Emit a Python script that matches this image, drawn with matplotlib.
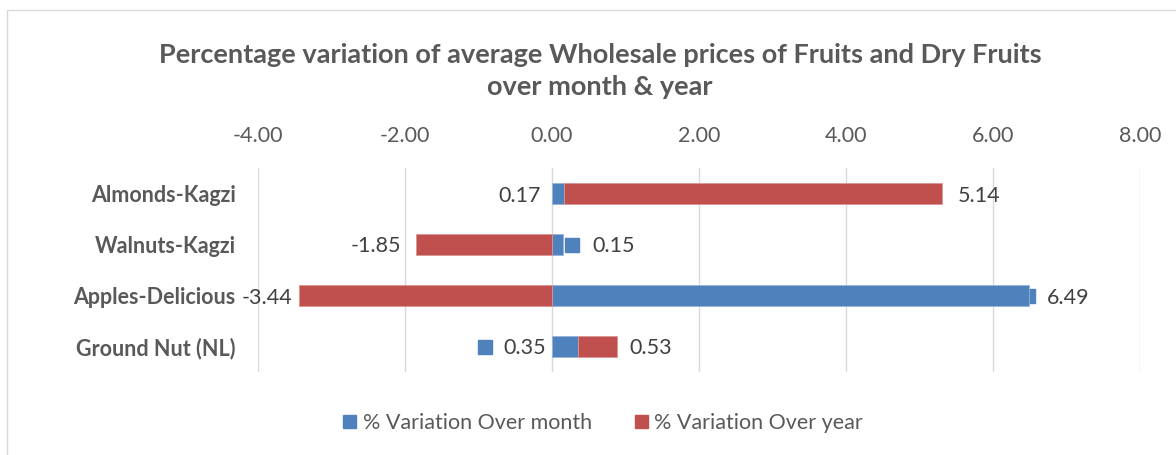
import numpy as np
import matplotlib
matplotlib.use("Agg")
import matplotlib.pyplot as plt
from matplotlib.patches import Rectangle, Patch
from matplotlib.transforms import offset_copy

plt.rcParams['font.family'] = ['Lato', 'DejaVu Sans']

categories = ['Almonds-Kagzi', 'Walnuts-Kagzi', 'Apples-Delicious', 'Ground Nut (NL)']
over_month = [0.17, 0.15, 6.49, 0.35]
over_year = [5.14, -1.85, -3.44, 0.53]
series_names = ['% Variation Over month', '% Variation Over year']
xticks = [-4, -2, 0, 2, 4, 6, 8]

blue = '#4F81BD'
red = '#C0504D'
txt = '#404040'
grey = '#595959'

# label layout (pixel offsets from the bar end / base), like the excel chart
# (anchor, text dx, ha, key dx or None)
month_lab = [('base', -11, 'right', None),
             ('end', 29, 'left', 9),
             ('end', 18, 'left', -1),
             ('base', -6, 'right', -67)]
year_lab = [15, -15, -7, 13]

fig = plt.figure(figsize=(11.76, 4.55), dpi=100)
fig.patches.append(Rectangle((7/1176, -0.1), 1.2, 1.1 - 10/455, transform=fig.transFigure,
                             fill=False, edgecolor='#d9d9d9', lw=1))
ax = fig.add_axes([258/1176, 1 - 372/455, (1140 - 258)/1176, (372 - 168)/455])

y = np.arange(len(categories))
ax.barh(y, over_month, height=0.4, color=blue, edgecolor='#9ab3d6', lw=0.6, zorder=3)
red_left = [m if (m > 0) == (v > 0) else 0 for m, v in zip(over_month, over_year)]
ax.barh(y, over_year, left=red_left, height=0.4, color=red, edgecolor='#d99694', lw=0.6, zorder=3)

ax.set_xlim(-4, 8)
ax.set_ylim(3.5, -0.5)
ax.xaxis.tick_top()
ax.set_xticks(xticks)
ax.set_xticklabels([f"{t:.2f}" for t in xticks], fontsize=15.5, color=grey)
ax.set_yticks(y)
ax.set_yticklabels(categories, fontsize=15.5, fontweight='bold', color=grey)
ax.tick_params(axis='x', length=0, pad=16)
ax.tick_params(axis='y', length=0, pad=16)
ax.grid(axis='x', color='#d9d9d9', lw=1)
ax.set_axisbelow(True)
for s in ax.spines.values():
    s.set_visible(False)

for i in range(len(categories)):
    m = over_month[i]
    anchor, dx, ha, kdx = month_lab[i]
    xa = 0 if anchor == 'base' else m
    ax.annotate(f"{m:.2f}", xy=(xa, y[i]), xytext=(dx, -2), textcoords='offset pixels',
                ha=ha, va='center', fontsize=15.5, color=txt)
    if kdx is not None:
        tr = offset_copy(ax.transData, fig=fig, x=kdx, y=0, units='dots')
        ax.plot([xa], [y[i]], marker='s', ms=10, color=blue, transform=tr, zorder=2, clip_on=False)

    v = over_year[i]
    end = red_left[i] + v
    ax.annotate(f"{v:.2f}", xy=(end, y[i]), xytext=(year_lab[i], -2), textcoords='offset pixels',
                ha='left' if v > 0 else 'right', va='center', fontsize=15.5, color=txt)

fig.text(600/1176, 1 - 55/455, 'Percentage variation of average Wholesale prices of Fruits and Dry Fruits',
         ha='center', va='center', fontsize=19.5, fontweight='bold', color=grey)
fig.text(600/1176, 1 - 87/455, 'over month & year',
         ha='center', va='center', fontsize=19.5, fontweight='bold', color=grey)

handles = [Patch(color=blue), Patch(color=red)]
fig.legend(handles, series_names, loc='center', bbox_to_anchor=(603/1176, 1 - 423/455), ncol=2,
           frameon=False, fontsize=15.5, labelcolor=grey, handlelength=0.6, handleheight=0.6,
           handletextpad=0.3, columnspacing=2.0)

fig.savefig('out.png', dpi=100)
